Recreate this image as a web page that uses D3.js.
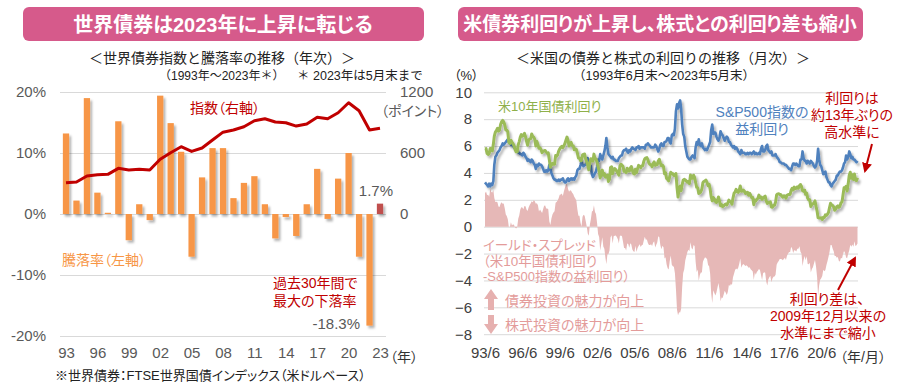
<!DOCTYPE html>
<html><head><meta charset="utf-8">
<script src="https://cdn.jsdelivr.net/npm/d3@7"></script>
<style>
body{margin:0;background:#fff;}
svg{font-family:"Liberation Sans","Noto Sans CJK JP",sans-serif;font-feature-settings:"palt" 1;}
.np{font-feature-settings:normal;}
</style></head><body>
<svg id="c" width="900" height="390"></svg>
<script>
// ---------- Left chart data ----------
const years = [1993,1994,1995,1996,1997,1998,1999,2000,2001,2002,2003,2004,2005,2006,2007,2008,2009,2010,2011,2012,2013,2014,2015,2016,2017,2018,2019,2020,2021,2022,2023];
const annualReturn = [13.2,2.2,19.0,3.5,0.2,15.2,-4.3,1.6,-1.0,19.4,14.9,10.2,-7.0,6.0,10.8,10.8,2.6,5.1,6.2,1.6,-4.0,-0.5,-3.6,1.6,7.4,-0.8,5.8,10.0,-7.0,-18.3,1.7];
const indexLevel = [308,315,374,387,390,449,433,440,433,538,603,662,616,649,728,805,826,858,917,937,905,898,865,885,951,937,996,1094,1016,826,843];
const leftXTicks = [1993,1996,1999,2002,2005,2008,2011,2014,2017,2020,2023];
const leftYTicks = [-20,-10,0,10,20];
const indexAxisTicks = [0,600,1200];

// ---------- Right chart data (monthly, 1993/6 - 2023/5) ----------
const startYear = 1993, startMonth = 6;
const us10y = [
5.78,5.81,5.45,5.38,5.43,5.82,5.79,
5.64,6.13,6.74,7.04,7.15,7.32,7.11,7.17,7.60,7.81,7.91,7.82,
7.58,7.20,7.20,7.06,6.28,6.20,6.43,6.28,6.18,6.02,5.74,5.57,
5.58,6.10,6.33,6.67,6.85,6.73,6.80,6.94,6.72,6.37,6.06,6.43,
6.52,6.55,6.90,6.72,6.66,6.50,6.01,6.34,6.10,5.83,5.87,5.74,
5.51,5.62,5.65,5.67,5.55,5.45,5.49,4.98,4.42,4.61,4.71,4.65,
4.65,5.29,5.24,5.35,5.62,5.78,5.90,5.97,5.88,6.02,6.19,6.44,
6.67,6.41,6.00,6.21,6.27,6.03,6.03,5.72,5.80,5.75,5.47,5.11,
5.11,4.90,4.92,5.34,5.38,5.41,5.05,4.83,4.59,4.23,4.75,5.05,
5.03,4.88,5.40,5.09,5.04,4.80,4.46,4.14,3.63,3.89,4.21,3.82,
3.96,3.69,3.80,3.84,3.37,3.52,4.41,4.46,3.94,4.29,4.33,4.25,
4.13,3.97,3.84,4.51,4.65,4.58,4.48,4.12,4.12,4.03,4.35,4.22,
4.13,4.36,4.48,4.20,3.98,3.92,4.28,4.02,4.32,4.56,4.49,4.39,
4.52,4.55,4.85,5.05,5.12,5.14,4.98,4.73,4.63,4.60,4.46,4.70,
4.82,4.56,4.64,4.62,4.89,5.02,4.74,4.53,4.58,4.47,3.94,4.02,
3.59,3.51,3.41,3.73,4.05,3.97,3.95,3.81,3.83,3.95,2.92,2.21,
2.84,3.02,2.67,3.12,3.46,3.53,3.48,3.40,3.31,3.38,3.20,3.84,
3.61,3.61,3.83,3.66,3.29,2.93,2.91,2.47,2.51,2.60,2.80,3.29,
3.37,3.42,3.47,3.29,3.05,3.16,2.80,2.22,1.92,2.17,2.07,1.88,
1.80,1.97,2.21,1.91,1.56,1.64,1.49,1.55,1.63,1.69,1.61,1.76,
1.98,1.88,1.85,1.67,2.13,2.49,2.58,2.78,2.61,2.55,2.74,3.03,
2.64,2.65,2.72,2.65,2.47,2.53,2.56,2.34,2.49,2.34,2.16,2.17,
1.64,1.99,1.92,2.03,2.12,2.35,2.18,2.21,2.04,2.14,2.21,2.27,
1.92,1.73,1.77,1.83,1.85,1.47,1.45,1.58,1.59,1.83,2.37,2.44,
2.45,2.39,2.39,2.28,2.20,2.30,2.29,2.12,2.33,2.38,2.41,2.40,
2.71,2.86,2.74,2.95,2.83,2.85,2.96,2.86,3.05,3.14,2.99,2.68,
2.63,2.72,2.41,2.50,2.12,2.00,2.01,1.50,1.66,1.69,1.77,1.92,
1.51,1.15,0.67,0.64,0.65,0.66,0.53,0.70,0.68,0.88,0.84,0.92,
1.07,1.44,1.74,1.63,1.58,1.47,1.22,1.31,1.49,1.55,1.44,1.51,
1.78,1.83,2.34,2.89,2.85,3.01,2.65,3.19,3.83,4.05,3.61,3.87,
3.51,3.92,3.47,3.42,3.64];
const spEarningsYield = [
3.3,3.2,3.1,3.0,3.2,3.0,3.2,
3.1,3.4,4.6,5.2,5.3,5.5,5.6,5.7,5.9,6.0,6.2,6.1,
6.2,6.3,6.4,6.5,6.3,6.2,6.1,6.2,6.0,5.9,5.8,5.7,
5.6,5.5,5.5,5.4,5.4,5.3,5.5,5.4,5.2,5.1,4.9,5.0,
4.9,4.8,5.0,4.9,4.7,4.6,4.3,4.6,4.5,4.7,4.6,4.6,
4.5,4.3,4.1,4.1,4.2,4.1,4.2,4.6,4.3,4.0,3.8,3.6,
3.5,3.5,3.4,3.4,3.5,3.4,3.5,3.5,3.6,3.4,3.3,3.3,
3.5,3.6,3.4,3.5,3.6,3.5,3.6,3.5,3.7,3.8,4.2,4.3,
4.3,4.6,4.9,4.6,4.5,4.6,4.6,4.8,5.1,4.9,4.6,4.5,
3.9,3.7,3.8,4.0,4.1,4.5,5.0,4.9,5.4,5.2,5.0,5.3,
5.6,6.0,6.6,5.9,5.4,5.3,5.2,5.1,5.2,5.0,5.0,4.9,
4.9,4.9,5.1,5.2,5.3,5.3,5.6,5.7,5.7,5.8,5.6,5.5,
5.7,5.6,5.8,5.9,5.8,5.8,5.7,5.9,5.9,6.0,5.8,5.9,
5.9,5.9,5.9,5.8,6.1,6.1,6.2,6.1,6.0,5.9,5.9,5.9,
5.9,6.1,6.0,5.8,5.6,5.8,6.1,6.2,6.0,6.0,6.3,6.3,
6.4,6.6,6.6,6.3,6.2,6.8,6.9,6.8,7.3,8.6,9.1,8.8,
9.2,9.4,8.8,7.6,6.9,6.7,6.0,5.6,5.2,5.1,5.0,5.0,
5.2,5.3,5.2,5.1,5.9,6.3,6.1,6.5,6.1,6.0,6.2,5.9,
5.8,5.7,5.8,5.7,5.9,6.1,6.3,7.2,7.6,6.9,7.0,7.0,
6.7,6.5,6.4,6.6,7.1,6.9,6.8,6.6,6.4,6.6,6.7,6.6,
6.3,6.3,6.1,6.0,5.9,6.0,5.8,5.9,5.8,5.6,5.5,5.4,
5.7,5.5,5.5,5.5,5.4,5.4,5.5,5.4,5.5,5.5,5.4,5.5,
5.6,5.4,5.5,5.4,5.4,5.5,5.4,5.8,6.0,5.6,5.6,5.7,
6.0,6.1,5.7,5.6,5.5,5.6,5.3,5.3,5.3,5.4,5.2,5.1,
5.0,4.8,4.8,4.7,4.7,4.7,4.6,4.6,4.5,4.4,4.3,4.3,
4.2,4.5,4.7,4.7,4.6,4.7,4.6,4.5,4.5,5.0,5.0,5.6,
5.1,4.9,4.9,4.7,4.9,4.8,4.7,4.9,4.8,4.7,4.5,4.4,
4.5,4.9,5.8,5.0,4.6,4.5,4.2,3.9,4.0,4.1,3.7,3.5,
3.3,3.3,3.1,3.0,3.2,3.3,3.4,3.5,3.8,3.8,4.0,4.1,
4.1,4.2,4.4,4.7,4.8,5.3,5.0,5.2,5.6,5.4,5.1,5.2,
5.0,5.0,4.9,4.8,4.9];
const rightXTickYears = [1993,1996,1999,2002,2005,2008,2011,2014,2017,2020];
const yieldTicks = [-8,-6,-4,-2,0,2,4,6,8,10];

// ---------- setup ----------
const svg = d3.select('#c');
const defs = svg.append('defs');
const f = defs.append('filter').attr('id','sh').attr('x','-30%').attr('y','-30%').attr('width','160%').attr('height','160%');
f.append('feDropShadow').attr('dx',2).attr('dy',2.5).attr('stdDeviation',1.2).attr('flood-color','#000').attr('flood-opacity',0.3);

const AX = '#595959', GRID = '#d9d9d9', DARKRED = '#c00000';

function txt(g, x, y, s, o = {}) {
  const t = g.append('text').attr('x', x).attr('y', y).text(s)
    .attr('font-size', o.size || 14).attr('fill', o.fill || '#222')
    .attr('text-anchor', o.anchor || 'start')
    .attr('font-weight', o.weight || 'normal');
  if (o.np) t.attr('class','np');
  return t;
}

// ================= LEFT CHART =================
const L = svg.append('g');
L.append('rect').attr('x',23).attr('y',7).attr('width',401).attr('height',34).attr('rx',6).attr('fill','#d65a8b');
txt(L, 223, 32, '世界債券は2023年に上昇に転じる', {size:20, fill:'#fff', anchor:'middle', weight:'bold'});
txt(L, 222, 63, '＜世界債券指数と騰落率の推移（年次）＞', {size:14, anchor:'middle', np:true});
txt(L, 159, 80, '（1993年～2023年＊）', {size:12, np:true});
txt(L, 297, 80, '＊ 2023年は5月末まで', {size:12.5, np:true});

const xL = d3.scalePoint().domain(years).range([66, 380]);
const yL = d3.scaleLinear().domain([-20, 20]).range([336, 92]);
const yR = d3.scaleLinear().domain([-1200, 1200]).range([336, 92]);

const gyl = L.append('g').attr('transform','translate(60,0)')
  .call(d3.axisLeft(yL).tickValues(leftYTicks).tickSize(-326).tickFormat(d => d + '%'));
gyl.select('.domain').remove();
gyl.selectAll('.tick line').attr('stroke', GRID).attr('stroke-width',1);
gyl.selectAll('.tick text').attr('x',-14).attr('fill',AX).attr('font-size',15).attr('font-family','Liberation Sans');

const gyr = L.append('g').attr('transform','translate(386,0)')
  .call(d3.axisRight(yR).tickValues(indexAxisTicks).tickSize(0).tickFormat(d3.format('d')));
gyr.select('.domain').remove();
gyr.selectAll('.tick text').attr('x',14).attr('fill',AX).attr('font-size',15).attr('font-family','Liberation Sans');
txt(L, 381, 116, '（ポイント）', {size:14, fill:AX});

const gxl = L.append('g').attr('transform','translate(0,344)')
  .call(d3.axisBottom(xL).tickValues(leftXTicks).tickSize(0).tickFormat(d => String(d).slice(2)));
gxl.select('.domain').remove();
gxl.selectAll('.tick text').attr('fill',AX).attr('font-size',15).attr('font-family','Liberation Sans');
txt(L, 390, 362, '（年）', {size:14, fill:'#333'});
txt(L, 55, 380, '※世界債券：FTSE世界国債インデックス（米ドルベース）', {size:13});

const bw = xL.step() * 0.6;
L.append('g').attr('filter','url(#sh)').selectAll('rect').data(years).join('rect')
  .attr('x', d => xL(d) - bw/2)
  .attr('width', bw)
  .attr('y', (d,i) => yL(Math.max(0, annualReturn[i])))
  .attr('height', (d,i) => Math.abs(yL(annualReturn[i]) - yL(0)))
  .attr('fill', (d,i) => i === years.length - 1 ? '#c0504d' : '#f79646');

L.append('path').datum(indexLevel)
  .attr('fill','none').attr('stroke', DARKRED).attr('stroke-width',3).attr('stroke-linejoin','round')
  .attr('d', d3.line().x((d,i) => xL(years[i])).y(d => yR(d)));

txt(L, 190, 113, '指数（右軸）', {size:14, fill:DARKRED});
txt(L, 62, 265, '騰落率（左軸）', {size:14, fill:'#f79646'});
txt(L, 393, 196, '1.7%', {size:15, fill:AX, anchor:'end'});
txt(L, 273, 288, '過去30年間で', {size:14, fill:DARKRED});
txt(L, 273, 306, '最大の下落率', {size:14, fill:DARKRED});
txt(L, 360, 329, '-18.3%', {size:15, fill:AX, anchor:'end'});

// ================= RIGHT CHART =================
const R = svg.append('g');
R.append('rect').attr('x',458).attr('y',7).attr('width',405).attr('height',34).attr('rx',6).attr('fill','#d65a8b');
txt(R, 660, 31, '米債券利回りが上昇し、株式との利回り差も縮小', {size:19, fill:'#fff', anchor:'middle', weight:'bold'});
txt(R, 663, 63, '＜米国の債券と株式の利回りの推移（月次）＞', {size:14, anchor:'middle', np:true});
txt(R, 664, 80, '（1993年6月末～2023年5月末）', {size:12.5, anchor:'middle', np:true});
txt(R, 454, 80, '（%）', {size:13});

const dates = us10y.map((d,i) => new Date(startYear, startMonth - 1 + i, 1));
const xT = d3.scaleTime().domain([dates[0], dates[dates.length-1]]).range([485, 857.5]);
const yT = d3.scaleLinear().domain([-8, 10]).range([334.2, 92.3]);

const gyt = R.append('g').attr('transform','translate(484,0)')
  .call(d3.axisLeft(yT).tickValues(yieldTicks).tickSize(-374).tickFormat(d3.format('d')));
gyt.select('.domain').remove();
gyt.selectAll('.tick line').attr('stroke', GRID);
gyt.selectAll('.tick text').attr('x',-12).attr('fill','#404040').attr('font-size',15).attr('font-family','Liberation Sans');

const gxt = R.append('g').attr('transform','translate(0,344)')
  .call(d3.axisBottom(xT).tickValues(rightXTickYears.map(y => new Date(y, 5, 1))).tickSize(0)
    .tickFormat(d => String(d.getFullYear()).slice(2) + '/6'));
gxt.select('.domain').remove();
gxt.selectAll('.tick text').attr('fill','#404040').attr('font-size',15).attr('font-family','Liberation Sans');
txt(R, 840, 362, '（年/月）', {size:14, fill:'#333'});

const spread = us10y.map((v,i) => +(v - spEarningsYield[i]).toFixed(2));

R.append('path').datum(spread).attr('fill','#e6b8b7')
  .attr('d', d3.area().x((d,i) => xT(dates[i])).y0(yT(0)).y1(d => yT(d)));

R.append('path').datum(spEarningsYield).attr('filter','url(#sh)')
  .attr('fill','none').attr('stroke','#4f81bd').attr('stroke-width',2.6).attr('stroke-linejoin','round')
  .attr('d', d3.line().x((d,i) => xT(dates[i])).y(d => yT(d)));
R.append('path').datum(us10y).attr('filter','url(#sh)')
  .attr('fill','none').attr('stroke','#9bbb59').attr('stroke-width',3).attr('stroke-linejoin','round')
  .attr('d', d3.line().x((d,i) => xT(dates[i])).y(d => yT(d)));

txt(R, 498, 111, '米10年国債利回り', {size:13, fill:'#8fb04a'});
txt(R, 762, 117, 'S&P500指数の', {size:14, fill:'#4f81bd', anchor:'middle'});
txt(R, 762, 134, '益利回り', {size:14, fill:'#4f81bd', anchor:'middle'});
txt(R, 852, 103, '利回りは', {size:14, fill:DARKRED, anchor:'middle'});
txt(R, 852, 120, '約13年ぶりの', {size:14, fill:DARKRED, anchor:'middle'});
txt(R, 852, 137, '高水準に', {size:14, fill:DARKRED, anchor:'middle'});

const PINKTXT = '#e39b9a';
txt(R, 483, 250, 'イールド・スプレッド', {size:13.5, fill:PINKTXT});
txt(R, 483, 266, '（米10年国債利回り', {size:13.5, fill:PINKTXT});
txt(R, 483, 281, '-S&P500指数の益利回り）', {size:13, fill:PINKTXT});
txt(R, 505, 306, '債券投資の魅力が向上', {size:14, fill:PINKTXT});
txt(R, 505, 330, '株式投資の魅力が向上', {size:14, fill:PINKTXT});
R.append('path').attr('fill','#e6b0af').attr('d','M484,299 L491,289 L498,299 L494,299 L494,310 L488,310 L488,299 Z');
R.append('path').attr('fill','#e6b0af').attr('d','M488,315 L494,315 L494,324 L498,324 L491,334 L484,324 L488,324 Z');

txt(R, 827, 304, '利回り差は、', {size:14, fill:DARKRED, anchor:'middle'});
txt(R, 828, 321, '2009年12月以来の', {size:14, fill:DARKRED, anchor:'middle'});
txt(R, 828, 338, '水準にまで縮小', {size:14, fill:DARKRED, anchor:'middle'});

defs.append('marker').attr('id','ah').attr('viewBox','0 0 10 10').attr('refX',8).attr('refY',5)
  .attr('markerWidth',5).attr('markerHeight',5).attr('orient','auto')
  .append('path').attr('d','M0,0 L10,5 L0,10 Z').attr('fill',DARKRED);
R.append('line').attr('x1',872).attr('y1',144).attr('x2',865).attr('y2',171)
  .attr('stroke',DARKRED).attr('stroke-width',2).attr('marker-end','url(#ah)');
R.append('line').attr('x1',838).attr('y1',290).attr('x2',855).attr('y2',258)
  .attr('stroke',DARKRED).attr('stroke-width',2).attr('marker-end','url(#ah)');
</script></body></html>
